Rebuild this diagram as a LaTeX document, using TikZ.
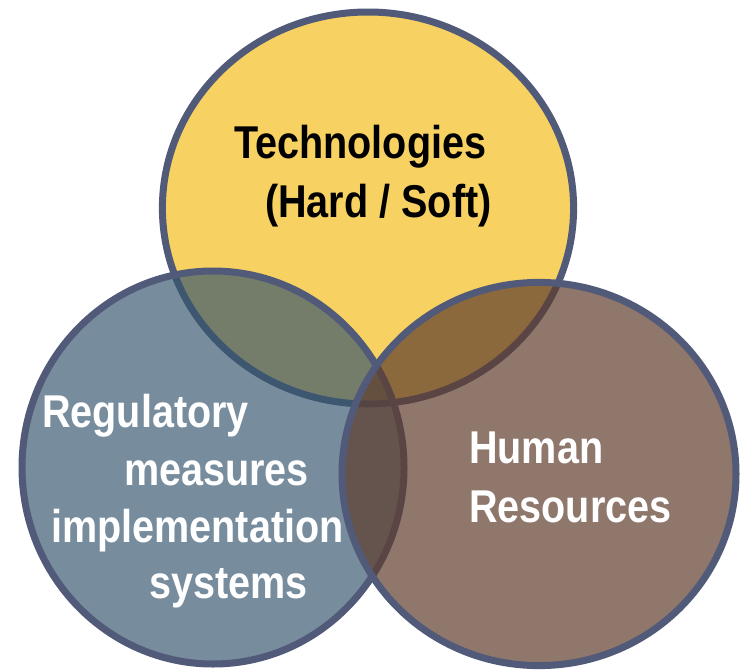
\documentclass[tikz,border=0pt]{standalone}
\usepackage{fontspec,tikz}
\setmainfont{Liberation Sans}[FakeStretch=0.86]

\definecolor{ringline}{HTML}{515A78}
\definecolor{techfill}{HTML}{F7D262}
\definecolor{regfill}{HTML}{36566F}
\definecolor{humfill}{HTML}{5F3D2E}

\begin{document}
\begin{tikzpicture}[x=1pt,y=-1pt,
  ring/.style={draw=ringline,line width=7pt},
  venntext/.style={anchor=base west,inner sep=0pt,font=\fontsize{46.0}{55.2}\selectfont \bfseries},
  darktext/.style={venntext,text=black},
  lighttext/.style={venntext,text=white}]
\path[use as bounding box] (0,0) rectangle (746.0,669.0);
% the three sets, back to front
\draw[ring,fill=techfill] (368,208) ellipse [x radius=205.6,y radius=196];
\draw[ring,fill=regfill,fill opacity=0.68] (213,467.5) ellipse [x radius=191,y radius=196.5];
\draw[ring,fill=humfill,fill opacity=0.7] (539,474) ellipse [x radius=197,y radius=191.6];
% texts
\node[darktext] (tech1) at (234,158) {Technologies};
\node[darktext] (tech2) at (265,217) {(Hard / Soft)};
\node[lighttext] (reg1) at (42,427) {Regulatory};
\node[lighttext] (reg2) at (124,485) {measures};
\node[lighttext] (reg3) at (51,542) {implementation};
\node[lighttext] (reg4) at (149,598) {systems};
\node[lighttext] (hum1) at (469,463) {Human};
\node[lighttext] (hum2) at (469,522) {Resources};
\end{tikzpicture}
\end{document}
